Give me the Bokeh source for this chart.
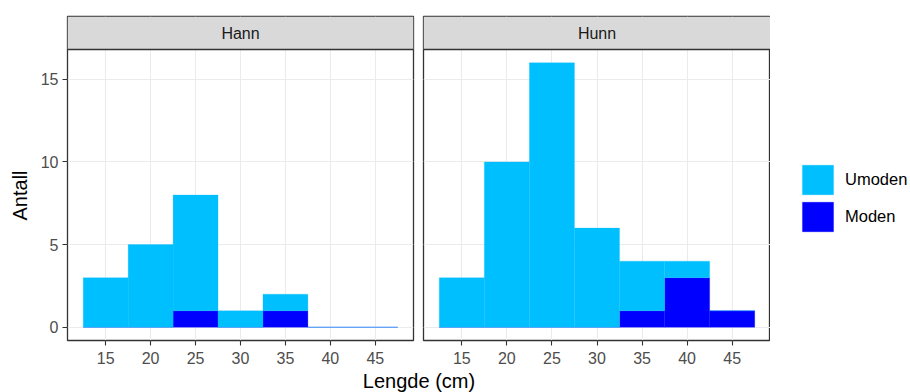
import math
from bokeh.plotting import figure
from bokeh.models import (Range1d, FixedTicker, Label, Legend, LegendItem,
                          ColumnDataSource, Span)
from bokeh.layouts import row, column
from bokeh.embed import file_html
from bokeh.resources import INLINE

# ---------------- data ----------------
bin_centers = [15, 20, 25, 30, 35, 40, 45]
bin_width = 5
hann_umoden = [3, 5, 7, 1, 1, 0, 0]
hann_moden = [0, 0, 1, 0, 1, 0, 0]
hunn_umoden = [3, 10, 16, 6, 3, 1, 0]
hunn_moden = [0, 0, 0, 0, 1, 3, 1]
panel_names = ["Hann", "Hunn"]
x_ticks = [15, 20, 25, 30, 35, 40, 45]
y_ticks = [0, 5, 10, 15]
series_names = ["Umoden", "Moden"]
series_colors = ["#00BFFF", "#0000FF"]
x_label = "Lengde (cm)"
y_label = "Antall"

# ---------------- layout ----------------
FONT = "Liberation Sans"
YLAB_W = 30
TOP = 16
FRAME_H = 324
STRIP_PX = 33
BOTTOM = 26
LEFT1 = 37
W1 = 346
GAP1 = 5
GAP2 = 5
W2 = 347
LEG_W = 140
XLAB_H = 26
PANEL_H = TOP + FRAME_H + BOTTOM

lo_edge = min(bin_centers) - bin_width / 2
hi_edge = max(bin_centers) + bin_width / 2
x_lo = lo_edge - 0.05 * (hi_edge - lo_edge)
x_hi = hi_edge + 0.05 * (hi_edge - lo_edge)
ymax = max(max(u + m for u, m in zip(hann_umoden, hann_moden)),
           max(u + m for u, m in zip(hunn_umoden, hunn_moden)))
y_lo = -0.05 * ymax
y_hi = ymax + 0.05 * ymax
ppu = (FRAME_H - STRIP_PX) / (y_hi - y_lo)
y_top = y_hi + STRIP_PX / ppu


def blank(width, height, frame_h):
    # frames of plots in a row are aligned, so the frame spans frame_h px
    f = figure(width=width, height=height, x_range=Range1d(0, width),
               y_range=Range1d(0, frame_h), toolbar_location=None,
               output_backend="svg", x_axis_location=None,
               y_axis_location=None, min_border=0)
    f.outline_line_color = None
    f.grid.visible = False
    f.background_fill_color = "white"
    f.border_fill_color = "white"
    return f


sources = {}


def make_panel(name, umoden, moden, first):
    width = (LEFT1 + W1 + GAP1) if first else (GAP2 + W2)
    p = figure(width=width, height=PANEL_H,
               x_range=Range1d(x_lo, x_hi), y_range=Range1d(y_lo, y_top),
               toolbar_location=None, output_backend="svg",
               y_axis_location="left" if first else None)
    p.min_border_top = TOP
    p.min_border_bottom = BOTTOM
    p.min_border_left = LEFT1 if first else GAP2
    p.min_border_right = GAP1 if first else 0
    p.background_fill_color = "white"
    p.border_fill_color = "white"
    p.outline_line_color = "#333333"
    p.outline_line_width = 1.3

    p.xgrid.ticker = FixedTicker(ticks=x_ticks)
    p.ygrid.ticker = FixedTicker(ticks=y_ticks)
    p.grid.grid_line_color = "#EBEBEB"
    p.grid.grid_line_width = 1.1

    for ax in p.axis:
        ax.axis_line_color = None
        ax.major_tick_line_color = "#333333"
        ax.major_tick_line_width = 1.1
        ax.major_tick_out = 5
        ax.major_tick_in = 0
        ax.minor_tick_line_color = None
        ax.major_label_text_font = FONT
        ax.major_label_text_font_size = "16px"
        ax.major_label_text_color = "#4D4D4D"
        ax.major_label_standoff = 4
    p.xaxis.ticker = FixedTicker(ticks=x_ticks)
    p.xaxis.major_label_standoff = 6
    if first:
        p.yaxis.ticker = FixedTicker(ticks=y_ticks)

    # strip
    p.quad(left=[x_lo], right=[x_hi], bottom=[y_hi], top=[y_top],
           fill_color="#D9D9D9", line_color=None)
    p.add_layout(Span(location=y_hi, dimension="width",
                      line_color="#333333", line_width=1.3))
    p.add_layout(Label(x=(x_lo + x_hi) / 2, y=(y_hi + y_top) / 2, text=name,
                       text_align="center", text_baseline="middle",
                       text_font=FONT, text_font_size="16px",
                       text_color="#1A1A1A"))

    lefts = [c - bin_width / 2 for c in bin_centers]
    rights = [c + bin_width / 2 for c in bin_centers]
    src_m = ColumnDataSource(dict(left=lefts, right=rights,
                                  bottom=[0] * len(moden), top=moden))
    src_u = ColumnDataSource(dict(left=lefts, right=rights, bottom=moden,
                                  top=[m + u for m, u in zip(moden, umoden)]))
    sources[name] = (src_u, src_m)
    p.quad(left="left", right="right", bottom="bottom", top="top",
           source=src_m, fill_color=series_colors[1],
           line_color=series_colors[1], line_alpha=0.25, line_width=1)
    p.quad(left="left", right="right", bottom="bottom", top="top",
           source=src_u, fill_color=series_colors[0],
           line_color=series_colors[0], line_alpha=0.25, line_width=1)
    return p


p1 = make_panel(panel_names[0], hann_umoden, hann_moden, True)
p2 = make_panel(panel_names[1], hunn_umoden, hunn_moden, False)

# y axis title (frame of this strip spans page y 16..340)
fy = blank(YLAB_W, PANEL_H, FRAME_H)
fy.add_layout(Label(x=19, y=(TOP + FRAME_H) - 195, text=y_label,
                    angle=math.pi / 2, text_align="center",
                    text_baseline="middle", text_font=FONT,
                    text_font_size="20px", text_color="black"))

# legend (hidden renderers share the Hunn sources, only used for the keys)
pl = blank(LEG_W, PANEL_H, FRAME_H)
src_u, src_m = sources[panel_names[1]]
lr_u = pl.quad(left="left", right="right", bottom="bottom", top="top",
               source=src_u, fill_color=series_colors[0],
               line_color=series_colors[0], line_alpha=0.25)
lr_m = pl.quad(left="left", right="right", bottom="bottom", top="top",
               source=src_m, fill_color=series_colors[1],
               line_color=series_colors[1], line_alpha=0.25)
lr_u.visible = False
lr_m.visible = False
legend = Legend(items=[LegendItem(label=series_names[0], renderers=[lr_u]),
                       LegendItem(label=series_names[1], renderers=[lr_m])],
                location=(28, (TOP + FRAME_H) - 235),
                glyph_width=39, glyph_height=37,
                label_text_font=FONT, label_text_font_size="16.5px",
                label_text_color="black", label_standoff=8, spacing=-4,
                padding=0, margin=0, border_line_color=None,
                background_fill_alpha=0, inactive_fill_alpha=0)
pl.add_layout(legend, "center")

# x axis title
total_w = YLAB_W + LEFT1 + W1 + GAP1 + GAP2 + W2 + LEG_W
f3 = blank(total_w, XLAB_H, XLAB_H)
x_mid = YLAB_W + LEFT1 + (W1 + GAP1 + GAP2 + W2) / 2
f3.add_layout(Label(x=x_mid, y=XLAB_H - 14, text=x_label,
                    text_align="center", text_baseline="middle",
                    text_font=FONT, text_font_size="20px",
                    text_color="black"))

layout = column(row(fy, p1, p2, pl), f3)
open("out.html", "w").write(file_html(layout, INLINE))
